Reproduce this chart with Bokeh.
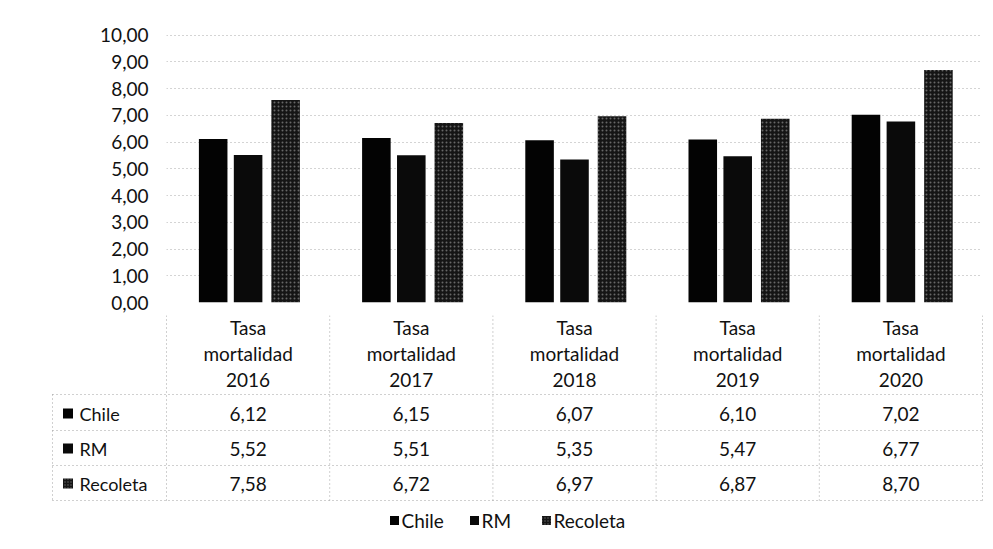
from bokeh.plotting import figure
from bokeh.models import Range1d, FactorRange, ColumnDataSource, FixedTicker
from bokeh.transform import dodge
from bokeh.core.properties import value
from bokeh.embed import file_html
from bokeh.resources import INLINE

# ---------------- data ----------------
years = ["2016", "2017", "2018", "2019", "2020"]
cat_labels = ["Tasa mortalidad " + y for y in years]
series = ["Chile", "RM", "Recoleta"]
chile = [6.12, 6.15, 6.07, 6.10, 7.02]
rm = [5.52, 5.51, 5.35, 5.47, 6.77]
recoleta = [7.58, 6.72, 6.97, 6.87, 8.70]
y_ticks = [0, 1, 2, 3, 4, 5, 6, 7, 8, 9, 10]
y_tick_labels = ["0,00", "1,00", "2,00", "3,00", "4,00", "5,00",
                 "6,00", "7,00", "8,00", "9,00", "10,00"]

FONT = "Lato"
FS = "19px"
TXT = "#111111"
W = 993
TOP_H = 315

# ---------------- chart ----------------
p = figure(x_range=FactorRange(*cat_labels, range_padding=0),
           y_range=Range1d(0, 10.7),
           width=W, height=TOP_H, output_backend="svg", toolbar_location=None,
           x_axis_location=None,
           min_border_left=166, min_border_right=11, min_border_top=16, min_border_bottom=13)
p.outline_line_color = None
p.background_fill_color = "white"
p.border_fill_color = "white"
p.xgrid.visible = False
p.ygrid.grid_line_color = "#a8a8a8"
p.ygrid.grid_line_dash = "1 3"
p.ygrid.grid_line_width = 1

ax = p.yaxis[0]
ax.ticker = FixedTicker(ticks=y_ticks)
ax.major_label_overrides = {t: l for t, l in zip(y_ticks, y_tick_labels)}
ax.axis_line_color = None
ax.major_tick_line_color = None
ax.minor_tick_line_color = None
ax.major_tick_in = 0
ax.major_tick_out = 0
ax.major_label_standoff = 18
ax.major_label_text_font = FONT
ax.major_label_text_font_size = "19px"
ax.major_label_text_color = TXT

src = ColumnDataSource(dict(cat=cat_labels, Chile=chile, RM=rm, Recoleta=recoleta))
offsets = [-0.214, 0.0, 0.23]
BW = 0.175
fills = ["#030303", "#0a0a0a", "#151515"]
hatch = dict(hatch_pattern="dot", hatch_color="white", hatch_scale=4, hatch_alpha=0.35)
for name, off, fc in zip(series, offsets, fills):
    kw = hatch if name == "Recoleta" else {}
    p.vbar(x=dodge("cat", off, range=p.x_range), top=name, width=BW, source=src,
           fill_color=fc, line_color=None, **kw)

# ---------------- data table + legend ----------------
PX = 816 / 5.0  # pixels per category
x0 = -166 / PX
t = figure(x_range=Range1d(x0, x0 + W / PX), y_range=Range1d(549, TOP_H),
           width=W, height=549 - TOP_H, output_backend="svg", toolbar_location=None,
           x_axis_location=None, y_axis_location=None,
           min_border_left=0, min_border_right=0, min_border_top=0, min_border_bottom=0)
t.outline_line_color = None
t.grid.visible = False
t.background_fill_color = "white"
t.border_fill_color = "white"

def sx(px):
    return (px - 166) / PX

n = len(years)
leg_left = sx(52)
row_lines = [394, 430, 465, 500]
row_centers = [413, 448, 483]
LC = "#a0a0a0"

# horizontal table lines
t.segment(x0=[leg_left] * len(row_lines), x1=[n] * len(row_lines), y0=row_lines, y1=row_lines,
          line_color=LC, line_dash="1 3", line_width=1)
# vertical column dividers
t.segment(x0=list(range(n + 1)), x1=list(range(n + 1)), y0=[TOP_H] * (n + 1), y1=[500] * (n + 1),
          line_color=LC, line_dash="1 3", line_width=1)
t.segment(x0=[leg_left], x1=[leg_left], y0=[394], y1=[500],
          line_color=LC, line_dash="1 3", line_width=1)

# header labels
cx = [i + 0.5 for i in range(n)]
head_rows = [[lbl.split(" ")[k] for lbl in cat_labels] for k in range(3)]
for ys, words in zip([327, 353, 379], head_rows):
    t.text(x=cx, y=[ys] * n, text=words, text_align="center", text_baseline="middle",
           text_font=value(FONT), text_font_size=FS, text_color=TXT)

# values + row keys
for name, vals, yc, fc in zip(series, [chile, rm, recoleta], row_centers, fills):
    t.text(x=cx, y=[yc] * n, text=[f"{v:.2f}".replace(".", ",") for v in vals],
           text_align="center", text_baseline="middle",
           text_font=value(FONT), text_font_size=FS, text_color=TXT)
    kw = dict(hatch, hatch_scale=3) if name == "Recoleta" else {}
    t.rect(x=[sx(67.5)], y=[yc], width=10, height=10, width_units="screen", height_units="screen",
           fill_color=fc, line_color=None, **kw)
    t.text(x=[sx(79)], y=[yc], text=[name], text_align="left", text_baseline="middle",
           text_font=value(FONT), text_font_size="18px", text_color=TXT)

# bottom legend
leg_y = 520
leg_sq = [394, 474, 546]
for name, sqx, fc in zip(series, leg_sq, fills):
    kw = dict(hatch, hatch_scale=3) if name == "Recoleta" else {}
    t.rect(x=[sx(sqx)], y=[leg_y], width=9, height=9, width_units="screen", height_units="screen",
           fill_color=fc, line_color=None, **kw)
    t.text(x=[sx(sqx + 7)], y=[leg_y], text=[name], text_align="left", text_baseline="middle",
           text_font=value(FONT), text_font_size="19px", text_color=TXT)

open("out.html", "w").write(file_html([p, t], INLINE))
